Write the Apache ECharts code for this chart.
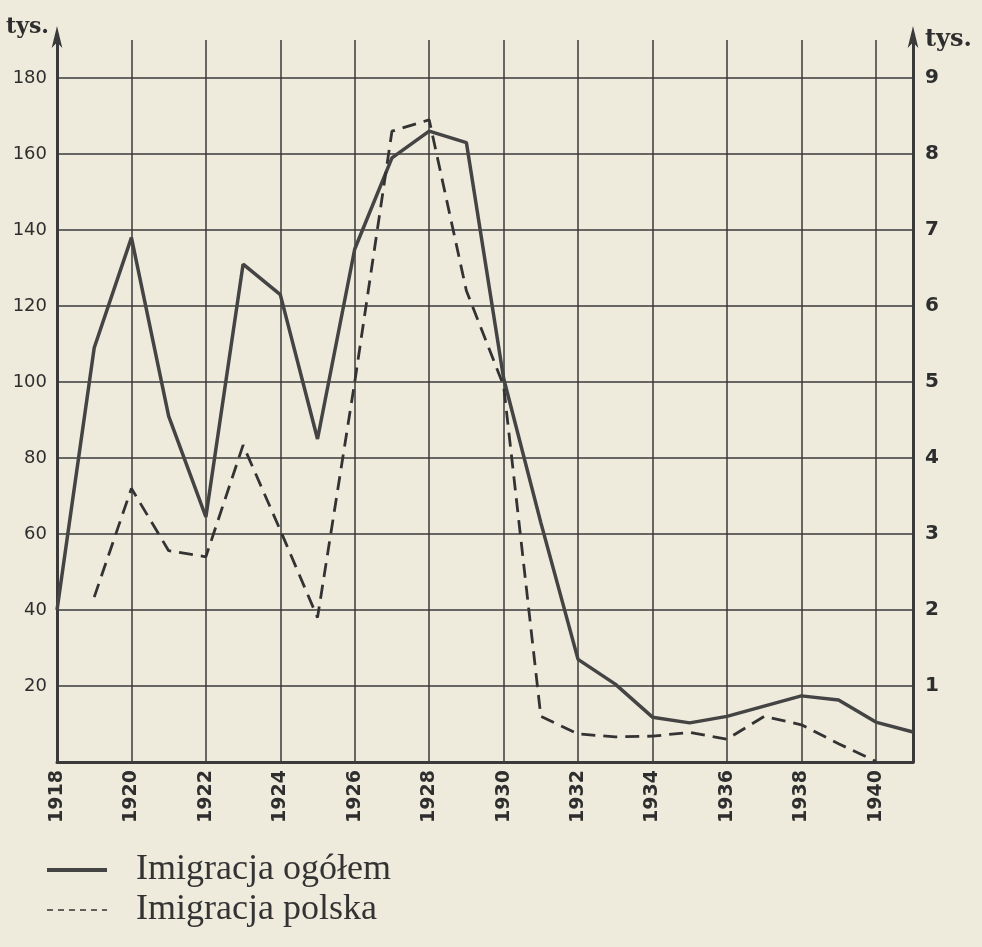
<!DOCTYPE html>
<html>
<head>
<meta charset="utf-8">
<title>Imigracja</title>
<script src="https://cdn.jsdelivr.net/npm/echarts@6/dist/echarts.min.js"></script>
<style>
  html, body { margin: 0; padding: 0; background: #eeeadc; }
  #chart { width: 982px; height: 947px; }
</style>
</head>
<body>
<div id="chart"></div>
<script>
const years = [
  1918, 1919, 1920, 1921, 1922, 1923, 1924, 1925, 1926, 1927, 1928, 1929,
  1930, 1931, 1932, 1933, 1934, 1935, 1936, 1937, 1938, 1939, 1940, 1941
]

// tys. (left axis)
const totalImmigration = [
  40, 109, 138, 91, 64.5, 131, 123, 85, 135, 159, 166, 163,
  101, 63, 27, 20.5, 11.8, 10.3, 12, 14.7, 17.4, 16.3, 10.5, 7.9
]

// tys. (right axis)
const polishImmigration = [
  null, 2.17, 3.6, 2.78, 2.7, 4.17, 3.05, 1.9, 5.0, 8.3, 8.45, 6.2,
  4.95, 0.6, 0.37, 0.33, 0.34, 0.39, 0.3, 0.6, 0.49, 0.24, 0.01, null
]

const seriesNames = ['Imigracja ogółem', 'Imigracja polska']

const ink = '#3a3a3a'

const chart = echarts.init(document.getElementById('chart'))

const option = {
  backgroundColor: '#eeeadc',
  animation: false,
  grid: {
    left: 57,
    right: 69,
    top: 40,
    bottom: 185
  },
  legend: {
    orient: 'vertical',
    left: 40,
    top: 846,
    itemWidth: 60,
    itemHeight: 14,
    itemGap: 2,
    itemStyle: { opacity: 0 },
    data: [
      { name: seriesNames[0], lineStyle: { width: 4, color: '#444' } },
      { name: seriesNames[1], lineStyle: { width: 1.5, color: '#333', type: [6, 5] } }
    ],
    textStyle: {
      fontFamily: 'Liberation Serif',
      fontSize: 36,
      lineHeight: 38,
      color: '#333',
      padding: [0, 0, 0, 24]
    }
  },
  xAxis: {
    type: 'value',
    min: 1918,
    max: 1941,
    interval: 2,
    axisLine: { show: true, onZero: false, lineStyle: { color: ink, width: 3 } },
    axisTick: { show: false },
    axisLabel: {
      rotate: 90,
      margin: 8,
      showMaxLabel: false,
      color: '#2e2e2e',
      fontFamily: 'DejaVu Sans',
      fontWeight: 'bold',
      fontSize: 19,
      formatter: v => String(v)
    },
    splitLine: { show: true, lineStyle: { color: ink, width: 1.5 } }
  },
  yAxis: [
    {
      type: 'value',
      min: 0,
      max: 190,
      interval: 20,
      name: 'tys.',
      nameLocation: 'end',
      nameGap: 2,
      nameTextStyle: {
        align: 'right',
        verticalAlign: 'bottom',
        padding: [0, 8, 0, 0],
        fontFamily: 'DejaVu Serif',
        fontWeight: 'bold',
        fontSize: 22,
        color: '#2e2e2e'
      },
      axisLine: {
        show: true,
        onZero: false,
        symbol: ['none', 'arrow'],
        symbolSize: [8, 22],
        symbolOffset: [0, 14],
        lineStyle: { color: ink, width: 3 }
      },
      axisTick: { show: false },
      axisLabel: {
        showMinLabel: false,
        showMaxLabel: false,
        margin: 10,
        color: '#2e2e2e',
        fontFamily: 'DejaVu Sans',
        fontSize: 18
      },
      splitLine: {
        show: true,
        showMaxLine: false,
        lineStyle: { color: ink, width: 1.5 }
      }
    },
    {
      type: 'value',
      position: 'right',
      min: 0,
      max: 9.5,
      interval: 1,
      name: 'tys.',
      nameLocation: 'end',
      nameGap: -12,
      nameTextStyle: {
        align: 'left',
        verticalAlign: 'bottom',
        padding: [0, 0, 0, 12],
        fontFamily: 'DejaVu Serif',
        fontWeight: 'bold',
        fontSize: 24,
        color: '#2e2e2e'
      },
      axisLine: {
        show: true,
        onZero: false,
        symbol: ['none', 'arrow'],
        symbolSize: [8, 22],
        symbolOffset: [0, 14],
        lineStyle: { color: ink, width: 3 }
      },
      axisTick: { show: false },
      axisLabel: {
        showMinLabel: false,
        showMaxLabel: false,
        margin: 12,
        color: '#2e2e2e',
        fontFamily: 'DejaVu Sans',
        fontWeight: 'bold',
        fontSize: 20
      },
      splitLine: { show: false }
    }
  ],
  series: [
    {
      name: seriesNames[0],
      type: 'line',
      yAxisIndex: 0,
      symbol: 'none',
      lineStyle: { color: '#444', width: 3.5 },
      itemStyle: { color: '#444' },
      data: years.map((y, i) => [y, totalImmigration[i]])
    },
    {
      name: seriesNames[1],
      type: 'line',
      yAxisIndex: 1,
      symbol: 'none',
      connectNulls: false,
      lineStyle: { color: '#333', width: 2.8, type: [14, 8] },
      itemStyle: { color: '#333' },
      data: years.map((y, i) => [y, polishImmigration[i]])
    }
  ]
}

chart.setOption(option)
</script>
</body>
</html>
